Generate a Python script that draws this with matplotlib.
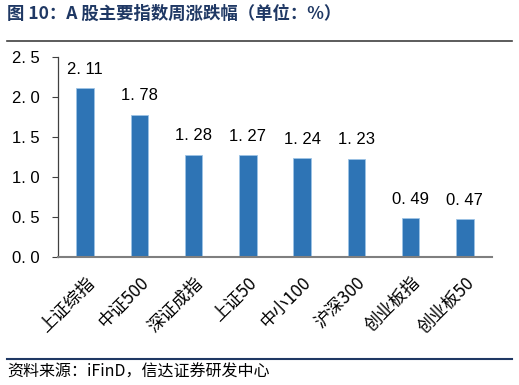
import matplotlib
matplotlib.use("Agg")
import matplotlib.pyplot as plt
from matplotlib.lines import Line2D

plt.rcParams['font.family'] = ['Liberation Sans', 'Noto Sans CJK SC', 'DejaVu Sans']

categories = ['上证综指', '中证500', '深证成指', '上证50', '中小100', '沪深300', '创业板指', '创业板50']
values = [2.11, 1.78, 1.28, 1.27, 1.24, 1.23, 0.49, 0.47]
yticks = [0.0, 0.5, 1.0, 1.5, 2.0, 2.5]
ytick_labels = ['0. 0', '0. 5', '1. 0', '1. 5', '2. 0', '2. 5']
title = '图 10：A 股主要指数周涨跌幅（单位：%）'
source = '资料来源：iFinD，信达证券研发中心'

W, H = 519, 385
fig = plt.figure(figsize=(W / 100, H / 100), dpi=100)
ax = fig.add_axes([58 / W, 1 - 257 / H, (492 - 58) / W, (257 - 57) / H])

bar_color = '#2E74B5'
x = list(range(len(categories)))
ax.bar(x, values, width=0.32, color=bar_color, edgecolor='#9DC3E6', linewidth=0.6)

for xi, v in zip(x, values):
    ax.annotate(f'{v:.2f}'.replace('.', '. '), (xi, v), xytext=(0, 8), textcoords='offset points',
                ha='center', va='bottom', fontsize=12, color='#000000')

ax.set_xlim(-0.5, len(categories) - 0.5)
ax.set_ylim(0, 2.5)
ax.set_yticks(yticks)
ax.set_yticklabels(ytick_labels, fontsize=12)
ax.tick_params(axis='y', direction='out', length=4, width=0.8, color='#404040', pad=9)
ax.set_xticks(x)
ax.set_xticklabels(categories, rotation=45, ha='right', rotation_mode='anchor', fontsize=12.5,
                   family=['Noto Sans CJK SC', 'DejaVu Sans'])
ax.tick_params(axis='x', length=0, pad=12)

for s in ['top', 'right']:
    ax.spines[s].set_visible(False)
ax.spines['left'].set_color('#404040')
ax.spines['left'].set_linewidth(0.9)
ax.spines['bottom'].set_color('#7F7F7F')
ax.spines['bottom'].set_linewidth(1.5)

fig.text(7 / W, 1 - 14 / H, title, ha='left', va='center', fontsize=12.5, fontweight='bold',
         color='#1F3864', family=['Noto Sans CJK SC', 'DejaVu Sans'])
fig.add_artist(Line2D([7 / W, 512 / W], [1 - 41 / H, 1 - 41 / H], color='#404040', linewidth=1.2,
                      transform=fig.transFigure))
fig.add_artist(Line2D([7 / W, 512 / W], [1 - 359 / H, 1 - 359 / H], color='#1F3864', linewidth=1.5,
                      transform=fig.transFigure))
fig.text(7 / W, 1 - 372 / H, source, ha='left', va='center', fontsize=11.5, style='italic',
         color='#000000', family=['Noto Sans CJK SC', 'DejaVu Sans'])

fig.savefig('out.png', dpi=100)
